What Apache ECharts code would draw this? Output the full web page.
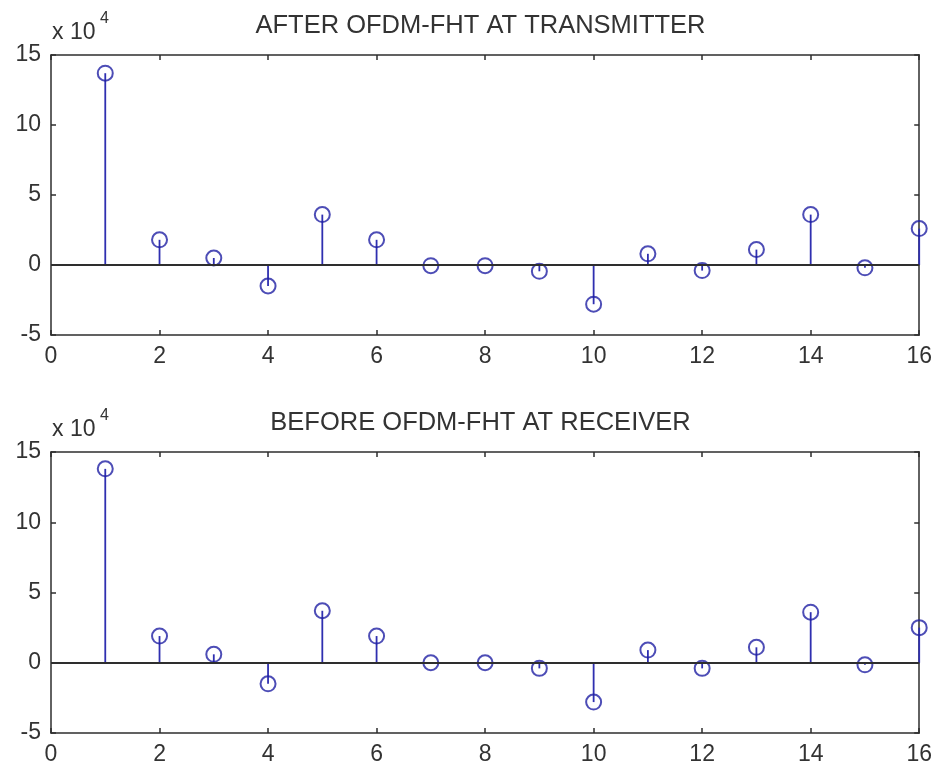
<!DOCTYPE html>
<html>
<head>
<meta charset="utf-8">
<script src="https://cdn.jsdelivr.net/npm/echarts@6/dist/echarts.min.js"></script>
<style>
  html, body { margin: 0; padding: 0; background: #ffffff; }
  #chart { width: 935px; height: 767px; }
</style>
</head>
<body>
<div id="chart"></div>
<script>
// Sample index (subcarrier number)
const sampleIndex = [1, 2, 3, 4, 5, 6, 7, 8, 9, 10, 11, 12, 13, 14, 15, 16];

// Signal after the OFDM-FHT stage at the transmitter
const txValues = [137000, 18000, 5000, -15000, 36000, 18000, -500, -500,
                  -4500, -28000, 8000, -4000, 11000, 36000, -2000, 26000];

// Signal before the OFDM-FHT stage at the receiver
const rxValues = [138000, 19000, 6000, -15000, 37000, 19000, 0, 0,
                  -4000, -28000, 9000, -4000, 11000, 36000, -1500, 25000];

const titles = ['AFTER OFDM-FHT AT TRANSMITTER', 'BEFORE OFDM-FHT AT RECEIVER'];
const xTicks = { min: 0, max: 16, interval: 2 };
const yTicks = { min: -50000, max: 150000, interval: 50000 };
const yScaleExp = 4;

const FONT = '"Liberation Sans", Arial, Helvetica, sans-serif';
const TEXT = '#333333';
const AXIS = '#2e2e2e';
const STEM = '#2f2fb0';
const MARK = '#2020a4';

const grids = [
  { left: 51, top: 55, width: 869, height: 280 },
  { left: 51, top: 452, width: 869, height: 281 }
];

const chart = echarts.init(document.getElementById('chart'), null, { renderer: 'canvas' });

const xAxes = [], yAxes = [], series = [], graphics = [];

[txValues, rxValues].forEach((vals, g) => {
  const box = { show: true, lineStyle: { color: AXIS, width: 1.5 }, onZero: false };
  const tick = { show: true, inside: true, length: 5, lineStyle: { color: AXIS, width: 1.5 } };
  // bottom x axis with labels
  xAxes.push({
    type: 'value', gridIndex: g, position: 'bottom',
    min: xTicks.min, max: xTicks.max, interval: xTicks.interval,
    axisLine: box, axisTick: tick, splitLine: { show: false },
    axisLabel: { color: TEXT, fontFamily: FONT, fontSize: 23, margin: 10 }
  });
  // top x axis: box edge and ticks only
  xAxes.push({
    type: 'value', gridIndex: g, position: 'top',
    min: xTicks.min, max: xTicks.max, interval: xTicks.interval,
    axisLine: box, axisTick: tick, splitLine: { show: false },
    axisLabel: { show: false }
  });
  // left y axis with labels in units of 10^4
  yAxes.push({
    type: 'value', gridIndex: g, position: 'left',
    min: yTicks.min, max: yTicks.max, interval: yTicks.interval,
    axisLine: box, axisTick: tick, splitLine: { show: false },
    axisLabel: {
      color: TEXT, fontFamily: FONT, fontSize: 23, margin: 10,
      formatter: v => String(Math.round(v / Math.pow(10, yScaleExp)))
    }
  });
  // right y axis: box edge and ticks only
  yAxes.push({
    type: 'value', gridIndex: g, position: 'right',
    min: yTicks.min, max: yTicks.max, interval: yTicks.interval,
    axisLine: box, axisTick: tick, splitLine: { show: false },
    axisLabel: { show: false }
  });

  const pts = sampleIndex.map((x, i) => [x, vals[i]]);

  // stems from zero to each sample, plus the zero baseline
  series.push({
    type: 'custom',
    xAxisIndex: g * 2, yAxisIndex: g * 2,
    data: pts,
    silent: true,
    renderItem: (params, api) => {
      const top = api.coord([api.value(0), api.value(1)]);
      const base = api.coord([api.value(0), 0]);
      return {
        type: 'line',
        shape: { x1: base[0], y1: base[1], x2: top[0], y2: top[1] },
        style: { stroke: STEM, lineWidth: 1.8 }
      };
    },
    markLine: {
      silent: true, symbol: 'none', label: { show: false },
      lineStyle: { color: AXIS, width: 1.8, type: 'solid' },
      data: [{ yAxis: 0 }],
      animation: false
    },
    z: 3
  });

  // open circle markers at each sample
  series.push({
    type: 'scatter',
    xAxisIndex: g * 2, yAxisIndex: g * 2,
    data: pts,
    symbol: 'circle',
    symbolSize: 15,
    itemStyle: { color: 'rgba(255,255,255,0)', borderColor: MARK, borderWidth: 2 },
    z: 4
  });

  const gr = grids[g];
  graphics.push({
    type: 'text', x: gr.left + gr.width / 2 - 5, y: gr.top - 29,
    style: { text: titles[g], fill: TEXT, font: '25.5px ' + FONT, align: 'center', verticalAlign: 'middle' }
  });
  graphics.push({
    type: 'text', x: gr.left + 1, y: gr.top - 22,
    style: { text: 'x 10', fill: TEXT, font: '23px ' + FONT, align: 'left', verticalAlign: 'middle' }
  });
  graphics.push({
    type: 'text', x: gr.left + 49, y: gr.top - 36,
    style: { text: String(yScaleExp), fill: TEXT, font: '16px ' + FONT, align: 'left', verticalAlign: 'middle' }
  });
});

chart.setOption({
  animation: false,
  backgroundColor: '#ffffff',
  grid: grids,
  xAxis: xAxes,
  yAxis: yAxes,
  series: series,
  graphic: graphics
});
</script>
</body>
</html>
